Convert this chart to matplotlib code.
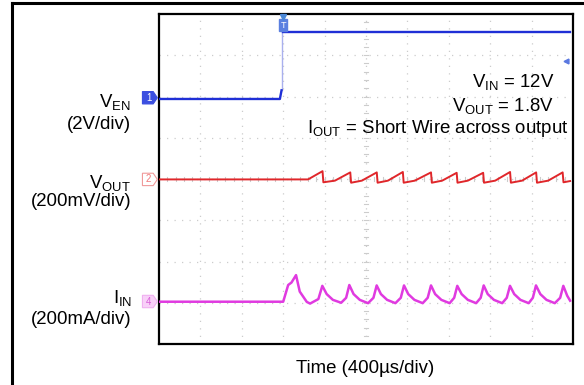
import matplotlib
matplotlib.use("Agg")
import matplotlib.pyplot as plt
from matplotlib.lines import Line2D
from matplotlib.patches import Polygon

plt.rcParams['font.family'] = ['Liberation Sans', 'DejaVu Sans']
plt.rcParams['mathtext.fontset'] = 'custom'
plt.rcParams['mathtext.rm'] = 'Liberation Sans'
plt.rcParams['mathtext.it'] = 'Liberation Sans'

# ---- data (in scope divisions: x 0..10, y 0..8) ----
ven_t = [0.0, 2.92, 2.96]
ven_v = [5.94, 5.94, 6.15]
ven_edge_t = [2.98, 2.98]
ven_edge_v = [6.15, 7.56]
ven_high_t = [3.0, 9.93]
ven_high_v = [7.56, 7.56]

vout_t = [0.0, 3.60, 3.95, 3.97, 4.25, 4.62, 4.64, 4.90, 5.26, 5.28, 5.53, 5.89, 5.91,
          6.18, 6.57, 6.59, 6.84, 7.19, 7.21, 7.46, 7.83, 7.85, 8.12, 8.48, 8.50,
          8.77, 9.11, 9.13, 9.40, 9.75, 9.77, 9.93]
vout_v = [3.99, 3.99, 4.19, 3.92, 3.96, 4.16, 3.91, 3.96, 4.16, 3.91, 3.96, 4.17, 3.91,
          3.96, 4.16, 3.91, 3.96, 4.15, 3.91, 3.96, 4.15, 3.91, 3.96, 4.17, 3.91,
          3.96, 4.16, 3.91, 3.96, 4.16, 3.92, 3.95]

iin_t = [0.0, 3.00, 3.12, 3.20, 3.31, 3.40, 3.57, 3.65, 3.85, 3.945,
         4.05, 4.20, 4.40, 4.52, 4.597,
         4.70, 4.85, 5.05, 5.18, 5.258,
         5.36, 5.51, 5.71, 5.84, 5.918,
         6.02, 6.17, 6.37, 6.49, 6.570,
         6.67, 6.82, 7.02, 7.13, 7.205,
         7.31, 7.46, 7.66, 7.77, 7.843,
         7.94, 8.09, 8.29, 8.40, 8.478,
         8.58, 8.73, 8.93, 9.03, 9.106,
         9.21, 9.36, 9.56, 9.69, 9.766,
         9.86, 9.93]
iin_v = [1.025, 1.025, 1.43, 1.49, 1.67, 1.27, 1.02, 0.98, 1.09, 1.41,
         1.21, 1.07, 1.00, 1.12, 1.43,
         1.21, 1.07, 0.99, 1.12, 1.42,
         1.21, 1.07, 0.99, 1.12, 1.42,
         1.21, 1.07, 0.99, 1.12, 1.42,
         1.21, 1.07, 0.99, 1.12, 1.41,
         1.21, 1.07, 0.99, 1.12, 1.42,
         1.21, 1.07, 0.99, 1.12, 1.41,
         1.21, 1.07, 0.99, 1.12, 1.42,
         1.21, 1.07, 0.99, 1.12, 1.41,
         1.17, 1.05]

left_labels = [r'V$_{\mathrm{EN}}$', r'V$_{\mathrm{OUT}}$', r'I$_{\mathrm{IN}}$']
left_scales = ['(2V/div)', '(200mV/div)', '(200mA/div)']
right_notes = [r'V$_{\mathrm{IN}}$ = 12V', r'V$_{\mathrm{OUT}}$ = 1.8V',
               r'I$_{\mathrm{OUT}}$ = Short Wire across output']
xlabel = 'Time (400µs/div)'

BLUE = '#1f2fd6'
RED = '#e0262a'
MAG = '#e03ae0'

W, H = 584, 385
fig = plt.figure(figsize=(W / 100, H / 100), dpi=100)

def fx(px):
    return px / W

def fy(py):
    return 1 - py / H

# outer frame (left & top lines)
fig.add_artist(Line2D([fx(12), fx(12)], [fy(3), 0], color='black', lw=2.2))
fig.add_artist(Line2D([fx(12), 1], [fy(3), fy(3)], color='black', lw=2.2))

ax = fig.add_axes([fx(159), fy(344), (573 - 159) / W, (344 - 14) / H])
ax.set_xlim(0, 10)
ax.set_ylim(0, 8)
ax.set_xticks([])
ax.set_yticks([])
for s in ax.spines.values():
    s.set_linewidth(1.6)
    s.set_color('black')

# graticule
gcol = '#cccccc'
for i in range(1, 10):
    ax.axvline(i, color=gcol, lw=0.9, ls=(0, (1, 5)), zorder=0)
for j in range(1, 8):
    ax.axhline(j, color=gcol, lw=0.9, ls=(0, (1, 5)), zorder=0)
for k in range(1, 50):
    t = k * 0.2
    ax.plot([t, t], [3.95, 4.05], color=gcol, lw=0.8, zorder=0)
for k in range(1, 40):
    t = k * 0.2
    ax.plot([4.95, 5.05], [t, t], color=gcol, lw=0.8, zorder=0)

# traces
ax.plot(ven_t, ven_v, color=BLUE, lw=1.7, zorder=3)
ax.plot(ven_edge_t, ven_edge_v, color='#a9b0ee', lw=1.0, zorder=2)
ax.plot(ven_high_t, ven_high_v, color=BLUE, lw=1.7, zorder=3)
ax.plot(vout_t, vout_v, color=RED, lw=1.4, zorder=3)
ax.plot(iin_t, iin_v, color=MAG, lw=1.8, zorder=3)

# channel markers (pentagon tags left of the screen), sizes in divisions
def tag(yc, label, fc, ec, tc):
    x0, x1, xt = -0.40, -0.14, -0.04
    h = 0.15
    poly = Polygon([[x0, yc - h], [x1, yc - h], [xt, yc], [x1, yc + h], [x0, yc + h]],
                   closed=True, fc=fc, ec=ec, lw=0.8, clip_on=False, zorder=5)
    ax.add_patch(poly)
    ax.text((x0 + x1) / 2 + 0.02, yc, label, ha='center', va='center', fontsize=7,
            color=tc, clip_on=False, zorder=6)

tag(5.97, '1', '#3b4fe0', '#3b4fe0', 'white')
tag(3.99, '2', 'white', '#f09a9a', '#f07878')
tag(1.03, '4', '#f8d0f8', '#f0b0f0', '#d860d8')

# trigger markers
ax.add_patch(Polygon([[2.90, 7.58], [3.10, 7.58], [3.10, 7.87], [2.90, 7.87]],
                     closed=True, fc='#5a7fe0', ec='#5a7fe0', zorder=5))
ax.text(3.0, 7.72, 'T', ha='center', va='center', fontsize=6.5, color='white',
        zorder=6)
ax.plot([3.0], [7.93], marker='v', ms=4, color='#4a88d8', clip_on=False, zorder=5)
ax.plot([9.83], [6.86], marker='<', ms=3.5, color='#5a78e0', zorder=5)

FS = 13.4
# left labels
lab_y = [107, 188, 303]
scl_y = [129, 206, 324]
lab_x = [131, 131, 132]
for lab, sc, ly, sy, lx in zip(left_labels, left_scales, lab_y, scl_y, lab_x):
    fig.text(fx(lx), fy(ly), lab, ha='right', va='baseline', fontsize=FS)
    fig.text(fx(131), fy(sy), sc, ha='right', va='baseline', fontsize=FS)

# right notes
note_x = [554, 554, 568]
note_y = [87, 111, 133]
for n, nx, ny in zip(right_notes, note_x, note_y):
    fig.text(fx(nx), fy(ny), n, ha='right', va='baseline', fontsize=FS)

fig.text(fx(365), fy(373), xlabel, ha='center', va='baseline', fontsize=FS)

fig.savefig('out.png', dpi=100)
